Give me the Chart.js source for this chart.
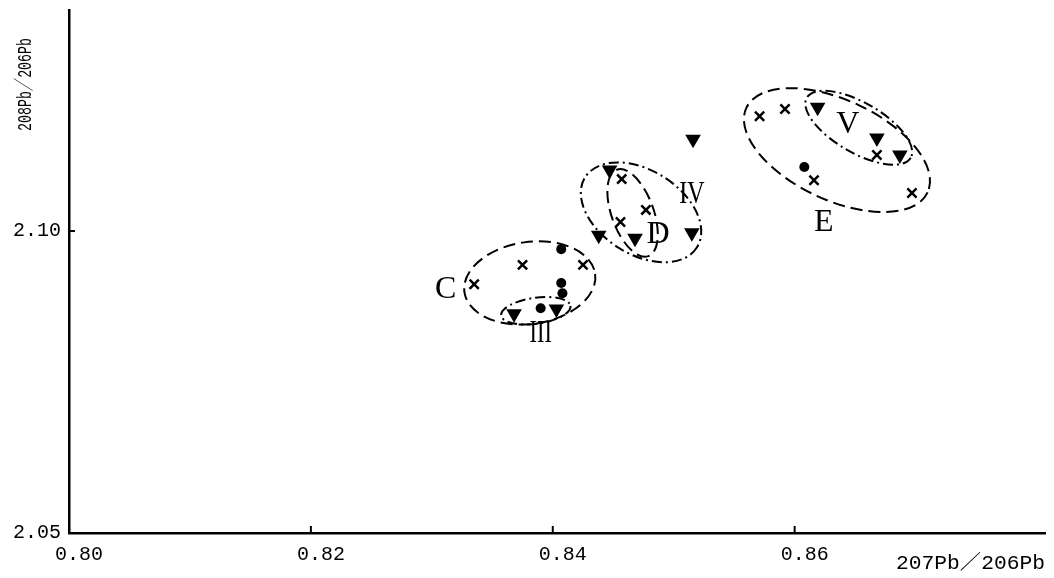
<!DOCTYPE html>
<html>
<head>
<meta charset="utf-8">
<script src="https://cdn.jsdelivr.net/npm/chart.js@4.4.0/dist/chart.umd.min.js"></script>
<style>
    html, body { margin: 0; padding: 0; background: #fff; }
    #wrap { width: 1054px; height: 578px; }
</style>
</head>
<body>
<div id="wrap"><canvas id="chart"></canvas></div>
<script>
// Оси
const xTicks = [0.80, 0.82, 0.84, 0.86];
const yTicks = [2.05, 2.10];
const xTitle = '207Pb／206Pb';
const yTitle = '208Pb／206Pb';

// Точки (×, ●, ▼)
const crossX = [0.8335, 0.8375, 0.8425, 0.8457, 0.8456, 0.8477, 0.8571, 0.8592, 0.8668, 0.8616, 0.8697];
const crossY = [2.0912, 2.0944, 2.0944, 2.1086, 2.1015, 2.1035, 2.1190, 2.1202, 2.1126, 2.1084, 2.1063];
const dotX = [0.8407, 0.8407, 0.8408, 0.8390, 0.8608];
const dotY = [2.0970, 2.0914, 2.0897, 2.0872, 2.1106];
const triX = [0.8368, 0.8403, 0.8447, 0.8438, 0.8468, 0.8515, 0.8516, 0.8619, 0.8668, 0.8687];
const triY = [2.0863, 2.0871, 2.1101, 2.0993, 2.0988, 2.0997, 2.1152, 2.1205, 2.1154, 2.1126];

// Группы: центры контуров и подписи
const groupNames = ['C', 'III', 'D', 'IV', 'E', 'V'];
const groupCx = [0.8381, 0.8386, 0.8466, 0.8473, 0.8635, 0.8653];
const groupCy = [2.0914, 2.0868, 2.1030, 2.1031, 2.1134, 2.1171];
const labelX = [0.83115, 0.8390, 0.8487, 0.8515, 0.8624, 0.8644];
const labelY = [2.0907, 2.0834, 2.0997, 2.1063, 2.1017, 2.1179];

// Форма контуров (пиксели, градусы) и стиль линии
const shapes = {
    C:   { rx: 66,  ry: 41, rot: -8, dash: [12, 6] },
    III: { rx: 35,  ry: 13, rot: -8, dash: [10, 4, 2, 4] },
    D:   { rx: 46,  ry: 21, rot: 70, dash: [12, 6] },
    IV:  { rx: 66,  ry: 42, rot: 32, dash: [10, 4, 2, 4] },
    E:   { rx: 100, ry: 50, rot: 25, dash: [12, 6] },
    V:   { rx: 60,  ry: 25, rot: 30, dash: [10, 4, 2, 4] }
};
const labelScaleX = { III: 0.7, IV: 0.75 };

const toPoints = (xs, ys) => xs.map((x, i) => ({ x, y: ys[i] }));

// текст, сжатый по длине до нужной ширины
const fitText = (ctx, text, width) => {
    const w = ctx.measureText(text).width;
    ctx.save();
    ctx.scale(width / w, 1);
    ctx.fillText(text, 0, 0);
    ctx.restore();
};

const groupsPlugin = {
    id: 'groups',
    beforeDatasetsDraw(chart) {
        const { ctx, scales: { x, y } } = chart;
        ctx.save();
        ctx.strokeStyle = '#000';
        ctx.lineWidth = 2;
        groupNames.forEach((name, i) => {
            const s = shapes[name];
            ctx.setLineDash(s.dash);
            ctx.beginPath();
            ctx.ellipse(x.getPixelForValue(groupCx[i]), y.getPixelForValue(groupCy[i]),
                s.rx, s.ry, s.rot * Math.PI / 180, 0, Math.PI * 2);
            ctx.stroke();
        });
        ctx.setLineDash([]);
        ctx.fillStyle = '#000';
        ctx.font = '32px "Liberation Serif", serif';
        ctx.textAlign = 'center';
        ctx.textBaseline = 'middle';
        groupNames.forEach((name, i) => {
            ctx.save();
            ctx.translate(x.getPixelForValue(labelX[i]), y.getPixelForValue(labelY[i]));
            ctx.scale(labelScaleX[name] || 1, 1);
            ctx.fillText(name, 0, 2);
            ctx.restore();
        });
        ctx.restore();
    },
    afterDraw(chart) {
        const { ctx, chartArea, scales: { x, y } } = chart;
        ctx.save();
        // внутренние засечки
        ctx.strokeStyle = '#000';
        ctx.lineWidth = 2;
        xTicks.slice(1).forEach(v => {
            const px = x.getPixelForValue(v);
            ctx.beginPath();
            ctx.moveTo(px, chartArea.bottom);
            ctx.lineTo(px, chartArea.bottom - 7);
            ctx.stroke();
        });
        yTicks.slice(1).forEach(v => {
            const py = y.getPixelForValue(v);
            ctx.beginPath();
            ctx.moveTo(chartArea.left, py);
            ctx.lineTo(chartArea.left + 6, py);
            ctx.stroke();
        });
        // подписи осей
        ctx.fillStyle = '#000';
        ctx.textBaseline = 'middle';
        ctx.textAlign = 'left';
        ctx.font = '20px "Liberation Mono", "Noto Sans CJK JP", monospace';
        ctx.save();
        ctx.translate(896, 564);
        fitText(ctx, xTitle, 149);
        ctx.restore();
        ctx.font = '21px "Liberation Mono", "Noto Sans CJK JP", monospace';
        ctx.translate(25, 131);
        ctx.rotate(-Math.PI / 2);
        fitText(ctx, yTitle, 93);
        ctx.restore();
    }
};

new Chart(document.getElementById('chart'), {
    type: 'scatter',
    data: {
        datasets: [
            {
                label: '×',
                data: toPoints(crossX, crossY),
                pointStyle: 'crossRot',
                pointRadius: 6.5,
                borderColor: '#000',
                borderWidth: 2.5
            },
            {
                label: '●',
                data: toPoints(dotX, dotY),
                pointStyle: 'circle',
                pointRadius: 5,
                backgroundColor: '#000',
                borderColor: '#000',
                borderWidth: 0
            },
            {
                label: '▼',
                data: toPoints(triX, triY),
                pointStyle: 'triangle',
                pointRadius: 9,
                rotation: 180,
                backgroundColor: '#000',
                borderColor: '#000',
                borderWidth: 0
            }
        ]
    },
    options: {
        responsive: true,
        maintainAspectRatio: false,
        animation: false,
        layout: { padding: { top: 10, right: 6, left: 0, bottom: 0 } },
        plugins: {
            legend: { display: false },
            tooltip: { enabled: false }
        },
        scales: {
            x: {
                type: 'linear',
                min: 0.80,
                max: 0.8807,
                afterBuildTicks: s => { s.ticks = xTicks.map(v => ({ value: v })); },
                afterFit: s => { s.height = 45; s.paddingLeft = 0; s.paddingRight = 0; },
                grid: { display: false, drawTicks: false },
                border: { display: true, color: '#000', width: 2.5 },
                ticks: {
                    color: '#000',
                    font: { family: '"Liberation Mono", monospace', size: 20 },
                    padding: 10,
                    labelOffset: 10,
                    maxRotation: 0,
                    callback: v => v.toFixed(2)
                }
            },
            y: {
                type: 'linear',
                min: 2.05,
                max: 2.1366,
                afterBuildTicks: s => { s.ticks = yTicks.map(v => ({ value: v })); },
                afterFit: s => { s.width = 69; s.paddingTop = 0; s.paddingBottom = 0; },
                grid: { display: false, drawTicks: false },
                border: { display: true, color: '#000', width: 2.5 },
                ticks: {
                    color: '#000',
                    font: { family: '"Liberation Mono", monospace', size: 20 },
                    padding: 8,
                    callback: v => v.toFixed(2)
                }
            }
        }
    },
    plugins: [groupsPlugin]
});
</script>
</body>
</html>
